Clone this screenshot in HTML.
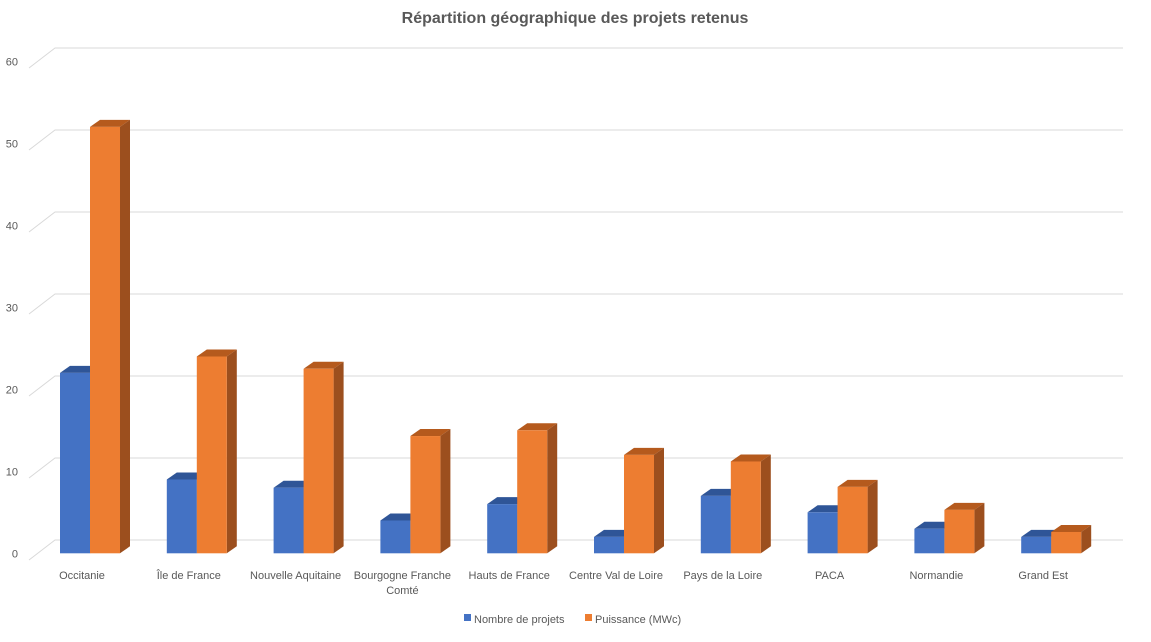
<!DOCTYPE html>
<html><head><meta charset="utf-8"><style>
body{margin:0;background:#fff;font-family:"Liberation Sans",sans-serif;}
svg text{font-family:"Liberation Sans",sans-serif;fill:#595959;}
</style></head><body>
<svg id="chart" width="1151" height="637" viewBox="0 0 1151 637">
<text x="575" y="23" text-anchor="middle" font-size="16" font-weight="bold">Répartition géographique des projets retenus</text>
<g id="grid"></g><g id="bars"></g><g id="labels"></g>
<g>
<rect x="464" y="614" width="7" height="7" fill="#4472c4"/>
<text x="474" y="623" font-size="11">Nombre de projets</text>
<rect x="585" y="614" width="7" height="7" fill="#ed7d31"/>
<text x="595" y="623" font-size="11">Puissance (MWc)</text>
</g>
</svg>
<script>
const categories=[["Occitanie"],["Île de France"],["Nouvelle Aquitaine"],["Bourgogne Franche","Comté"],["Hauts de France"],["Centre Val de Loire"],["Pays de la Loire"],["PACA"],["Normandie"],["Grand Est"]];
const projets=[22,9,8,4,6,2,7,5,3,2];
const puissance=[52,24,22.5,14.3,15,12,11.2,8.1,5.3,2.6];
const ticks=[0,10,20,30,40,50,60];
const NS="http://www.w3.org/2000/svg";
const unit=8.2, front0=553.3, back0=540, x0=55, step=106.8;
const yF=v=>front0-v*unit, yB=v=>back0-v*unit, xC=i=>x0+i*step;
function mk(t,a,p){const e=document.createElementNS(NS,t);for(const k in a)e.setAttribute(k,a[k]);p.appendChild(e);return e;}
const grid=document.getElementById('grid'),bars=document.getElementById('bars'),labels=document.getElementById('labels');
ticks.forEach(v=>{
 const l=mk('polyline',{points:`29,${yB(v)+20} 55,${yB(v)} 1123,${yB(v)}`,fill:'none',stroke:'#d9d9d9','stroke-width':1},grid);
 
 
 const t=mk('text',{x:18,y:yF(v)+4,'text-anchor':'end','font-size':11},labels);
 t.textContent=v;
 
 
});
function bar(x,v,c,ct,cs,name){
 const g=mk('g',{},bars);
 
 
 const top=yF(v),w=30,dx=10,dy=7;
 mk('polygon',{points:`${x},${top} ${x+dx},${top-dy} ${x+w+dx},${top-dy} ${x+w},${top}`,fill:ct},g);
 mk('polygon',{points:`${x+w},${top} ${x+w+dx},${top-dy} ${x+w+dx},${front0-dy} ${x+w},${front0}`,fill:cs},g);
 mk('rect',{x:x,y:top,width:w,height:front0-top,fill:c},g);
}
categories.forEach((c,i)=>{
 const x=xC(i)+5;
 bar(x,projets[i],'#4472c4','#2f5597','#2f5597','bar-projets-'+i);
 bar(x+30,puissance[i],'#ed7d31','#b55a1d','#9c4f1e','bar-puissance-'+i);
 c.forEach((line,j)=>{
  const t=mk('text',{x:xC(i)+27,y:579+j*15,'text-anchor':'middle','font-size':11},labels);
  t.textContent=line;
  
  
 });
});
</script>
</body></html>
